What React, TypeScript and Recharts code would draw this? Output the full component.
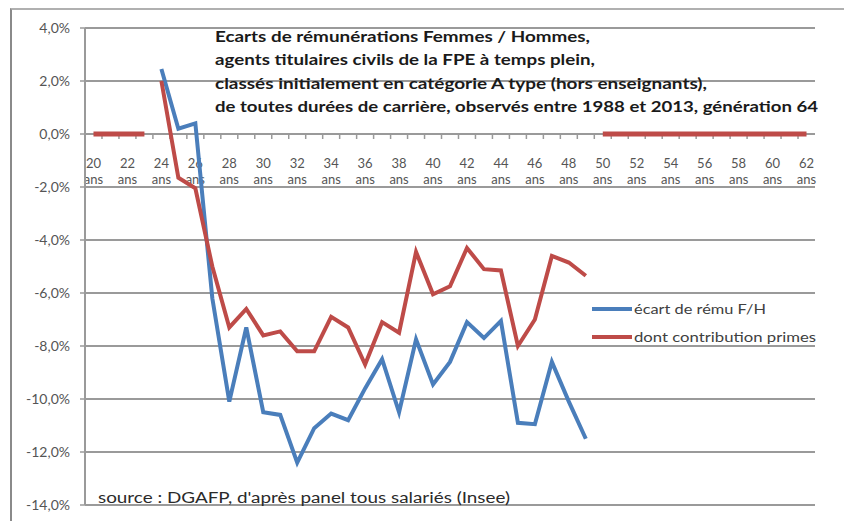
import { CartesianGrid, Line, LineChart, ReferenceLine, XAxis, YAxis } from "recharts";

const ages = [
  20, 21, 22, 23, 24, 25, 26, 27, 28, 29, 30, 31, 32, 33, 34, 35, 36, 37, 38, 39, 40,
  41, 42, 43, 44, 45, 46, 47, 48, 49, 50, 51, 52, 53, 54, 55, 56, 57, 58, 59, 60, 61, 62,
];

// écart de rému F/H, en %, de 24 à 49 ans
const ecartRemu = [
  2.45, 0.2, 0.4, -6.2, -10.1, -7.3, -10.5, -10.6, -12.4, -11.1, -10.55, -10.8, -9.6,
  -8.5, -10.5, -7.75, -9.45, -8.6, -7.1, -7.7, -7.05, -10.9, -10.95, -8.6, -10.1, -11.5,
];

// dont contribution primes, en %, de 24 à 49 ans
const contributionPrimes = [
  2.0, -1.65, -2.05, -5.0, -7.3, -6.6, -7.6, -7.45, -8.2, -8.2, -6.9, -7.3, -8.7,
  -7.1, -7.5, -4.45, -6.05, -5.75, -4.3, -5.1, -5.15, -8.0, -7.0, -4.6, -4.85, -5.35,
];

const firstObservedAge = 24;
// âges hors période observée, tracés à 0
const zeroAges = [20, 21, 22, 23, 50, 51, 52, 53, 54, 55, 56, 57, 58, 59, 60, 61, 62];

const yTicks = [-14, -12, -10, -8, -6, -4, -2, 0, 2, 4];

const titleLines = [
  "Ecarts de rémunérations Femmes / Hommes,",
  "agents titulaires civils de la FPE à temps plein,",
  "classés initialement en catégorie A type (hors enseignants),",
  "de toutes durées de carrière, observés entre 1988 et 2013,  génération 64",
];
const titleWidths = [375, 380, 492, 603];

const BLUE = "#4a7ebb";
const RED = "#be4b48";
const GRID = "#9a9a9a";
const FONT = "Lato, 'Open Sans', sans-serif";

const W = 844;
const H = 521;
const Y_AXIS_W = 75;
const margin = { top: 28, right: 29, bottom: 16, left: 10 };
// demi-catégorie de chaque côté, comme un axe Excel « entre les graduations »
const halfStep = (W - margin.left - Y_AXIS_W - margin.right) / ages.length / 2;

const data = ages.map((age) => {
  const i = age - firstObservedAge;
  return {
    age,
    ecart: i >= 0 && i < ecartRemu.length ? ecartRemu[i] : null,
    primes: i >= 0 && i < contributionPrimes.length ? contributionPrimes[i] : null,
    zero: zeroAges.includes(age) ? 0 : null,
  };
});

const formatPct = (v: number) => `${v.toFixed(1).replace(".", ",")}%`;

// axe des âges posé sur la ligne 0
function AgeAxis({ viewBox }: any) {
  if (!viewBox) return null;
  const { x, y, width } = viewBox;
  const step = width / ages.length;
  return (
    <g>
      {ages.map((age, i) => {
        const cx = x + step * (i + 0.5);
        return (
          <g key={age}>
            <line x1={x + step * i} x2={x + step * i} y1={y} y2={y + 5} stroke={GRID} strokeWidth={1.5} />
            {i % 2 === 0 && (
              <text textAnchor="middle" fill="#555" fontSize={13} fontFamily={FONT}>
                <tspan x={cx} y={y + 34}>{age}</tspan>
                <tspan x={cx} y={y + 50}>ans</tspan>
              </text>
            )}
          </g>
        );
      })}
    </g>
  );
}

export default function App() {
  return (
    <div
      style={{
        position: "absolute",
        left: 0,
        top: 0,
        width: W,
        height: H,
        background: "#fff",
        overflow: "hidden",
        fontFamily: FONT,
      }}
    >
      <div
        style={{
          position: "absolute",
          left: 10,
          top: 8,
          right: -4,
          bottom: -4,
          borderLeft: "2px solid #8a8a8a",
          borderTop: "2px solid #b0b0b0",
        }}
      />
      <LineChart width={W} height={H} data={data} margin={margin}>
        <CartesianGrid vertical={false} stroke={GRID} strokeWidth={2} />
        <XAxis dataKey="age" hide padding={{ left: halfStep, right: halfStep }} />
        <YAxis
          domain={[-14, 4]}
          ticks={yTicks}
          width={Y_AXIS_W}
          tickFormatter={formatPct}
          axisLine={{ stroke: GRID, strokeWidth: 2 }}
          tickLine={{ stroke: GRID, strokeWidth: 1.5 }}
          tickSize={5}
          tickMargin={10}
          tick={{ fill: "#555", fontSize: 14, fontFamily: FONT }}
        />
        <ReferenceLine y={0} stroke={GRID} strokeWidth={2} label={<AgeAxis />} />
        <Line
          dataKey="zero"
          stroke={RED}
          strokeWidth={5}
          dot={false}
          legendType="none"
          isAnimationActive={false}
        />
        <Line
          dataKey="ecart"
          name="écart de rému F/H"
          stroke={BLUE}
          strokeWidth={4}
          dot={false}
          type="linear"
          isAnimationActive={false}
        />
        <Line
          dataKey="primes"
          name="dont contribution primes"
          stroke={RED}
          strokeWidth={4}
          dot={false}
          type="linear"
          isAnimationActive={false}
        />
      </LineChart>
      <svg width={W} height={H} style={{ position: "absolute", left: 0, top: 0, pointerEvents: "none" }}>
        {titleLines.map((line, i) => (
          <text
            key={i}
            x={215}
            y={42 + i * 23.3}
            fontSize={16}
            fontWeight={700}
            fill="#1a1a1a"
            fontFamily={FONT}
            textLength={titleWidths[i]}
            lengthAdjust="spacingAndGlyphs"
          >
            {line}
          </text>
        ))}
        <text x={98} y={503} fontSize={15.5} fill="#2a2a2a" fontFamily={FONT} textLength={412} lengthAdjust="spacingAndGlyphs">
          source : DGAFP, d'après panel tous salariés (Insee)
        </text>
        {[
          { label: "écart de rému F/H", color: BLUE, y: 309, w: 132 },
          { label: "dont contribution primes", color: RED, y: 337, w: 182 },
        ].map((item) => (
          <g key={item.label}>
            <line x1={592} x2={632} y1={item.y} y2={item.y} stroke={item.color} strokeWidth={4} />
            <text
              x={634}
              y={item.y + 5}
              fontSize={14}
              fill="#404040"
              fontFamily={FONT}
              textLength={item.w}
              lengthAdjust="spacingAndGlyphs"
            >
              {item.label}
            </text>
          </g>
        ))}
      </svg>
    </div>
  );
}
